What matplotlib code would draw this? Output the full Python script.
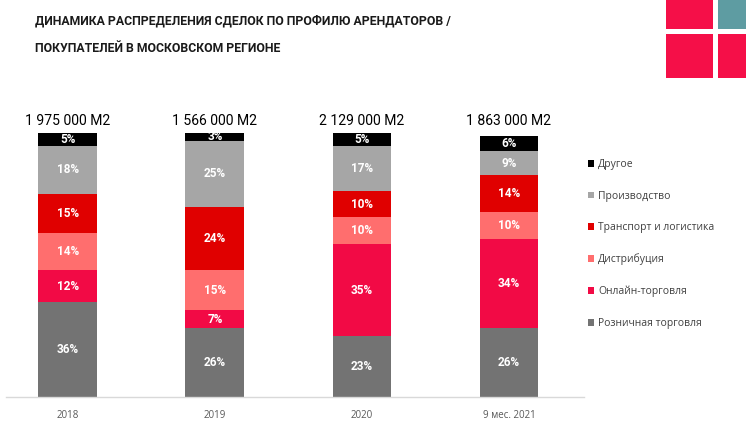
import matplotlib
matplotlib.use("Agg")
import matplotlib.pyplot as plt
from matplotlib.patches import Patch, Rectangle
import numpy as np

categories = ["2018", "2019", "2020", "9 мес. 2021"]
totals = ["1 975 000 M2", "1 566 000 M2", "2 129 000 M2", "1 863 000 M2"]
series_names = ["Розничная торговля", "Онлайн-торговля", "Дистрибуция",
                "Транспорт и логистика", "Производство", "Другое"]
retail = [36, 26, 23, 26]
online = [12, 7, 35, 34]
distribution = [14, 15, 10, 10]
transport = [15, 24, 10, 14]
production = [18, 25, 17, 9]
other = [5, 3, 5, 6]
series = [retail, online, distribution, transport, production, other]
colors = ["#737373", "#F20A45", "#FF6E6E", "#E00000", "#A6A6A6", "#000000"]

title1 = "ДИНАМИКА РАСПРЕДЕЛЕНИЯ СДЕЛОК ПО ПРОФИЛЮ АРЕНДАТОРОВ /"
title2 = "ПОКУПАТЕЛЕЙ В МОСКОВСКОМ РЕГИОНЕ"

narrow = ["Roboto", "DejaVu Sans"]
plain = ["Open Sans", "DejaVu Sans"]

W, H = 750, 425
fig = plt.figure(figsize=(7.5, 4.25), dpi=100)
renderer = fig.canvas.get_renderer()


def fit(text_obj, target_px, max_size):
    size = text_obj.get_fontsize()
    w = text_obj.get_window_extent(renderer).width
    new = min(max_size, size * target_px / w)
    text_obj.set_fontsize(new)
    return new


ax = fig.add_axes([6 / W, 1 - 397 / H, (584 - 6) / W, (397 - 133) / H])

x = np.arange(len(categories))
bottom = np.zeros(len(categories))
for vals, col in zip(series, colors):
    vals = np.array(vals, dtype=float)
    ax.bar(x, vals, bottom=bottom, width=0.40, color=col, linewidth=0)
    for xi, b, v in zip(x, bottom, vals):
        ax.text(xi, b + v / 2, f"{int(v)}%", ha="center", va="center",
                color="white", fontsize=8.5, fontweight="bold", family=narrow)
    bottom += vals

tot_texts = []
for xi, t in zip(x, totals):
    tot_texts.append(ax.text(xi, 104.6, t, ha="center", va="center",
                             fontsize=11, family=narrow, color="black"))
s = fit(tot_texts[0], 86, 11.5)
for t in tot_texts:
    t.set_fontsize(s)

ax.set_xlim(-0.42, 3.51)
ax.set_ylim(0, 100)
ax.set_xticks(x)
ax.set_xticklabels(categories, family=plain, fontsize=7, color="#595959")
ax.tick_params(axis="x", length=0, pad=9)
ax.set_yticks([])
for sp in ["top", "right", "left"]:
    ax.spines[sp].set_visible(False)
ax.spines["bottom"].set_color("#D9D9D9")
ax.spines["bottom"].set_linewidth(1)

handles = [Patch(facecolor=c, edgecolor="none") for c in colors][::-1]
labels = series_names[::-1]
leg = fig.legend(handles, labels, loc="center left",
                 bbox_to_anchor=(588 / W, 1 - 244 / H), frameon=False,
                 handlelength=0.6, handleheight=0.6, handletextpad=0.35,
                 labelspacing=1.97, borderpad=0, borderaxespad=0,
                 prop={"family": plain, "size": 7.5})
for t in leg.get_texts():
    t.set_color("#404040")

fig.text(35 / W, 1 - 21 / H, title1, ha="left", va="center", fontsize=8.8,
         fontweight="bold", family=narrow, color="#1A1A1A")
fig.text(35 / W, 1 - 48 / H, title2, ha="left", va="center", fontsize=8.8,
         fontweight="bold", family=narrow, color="#1A1A1A")

# corner logo squares
logo = [(666, 0, 713, 29, "#F50F48"), (718, 0, 746, 29, "#5E9CA2"),
        (666, 34, 713, 78, "#F50F48"), (718, 34, 746, 78, "#F50F48")]
for x0, y0, x1, y1, c in logo:
    fig.patches.append(Rectangle((x0 / W, 1 - y1 / H), (x1 - x0) / W,
                                 (y1 - y0) / H, transform=fig.transFigure,
                                 facecolor=c, edgecolor="none"))

fig.savefig("out.png", dpi=100)
